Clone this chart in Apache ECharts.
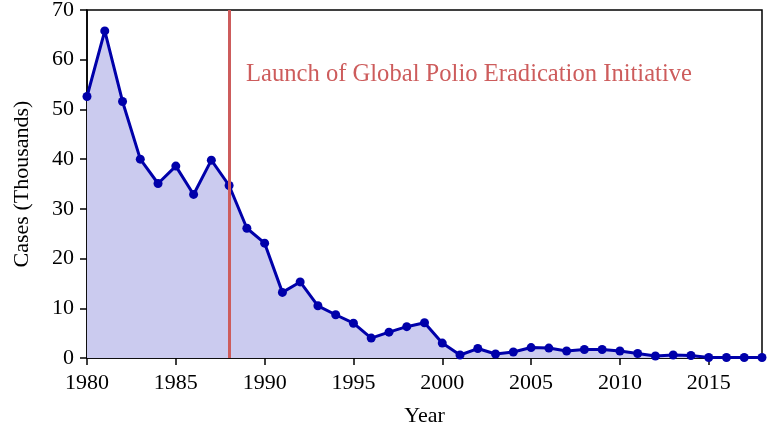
<!DOCTYPE html>
<html>
<head>
<meta charset="utf-8">
<script src="https://cdn.jsdelivr.net/npm/echarts@6/dist/echarts.min.js"></script>
<style>
  html, body { margin: 0; padding: 0; background: #fff; }
</style>
</head>
<body>
<div id="main" style="width: 769px; height: 432px;"></div>
<script>
// polio cases per year, thousands
var years = [1980, 1981, 1982, 1983, 1984, 1985, 1986, 1987, 1988, 1989,
  1990, 1991, 1992, 1993, 1994, 1995, 1996, 1997, 1998, 1999,
  2000, 2001, 2002, 2003, 2004, 2005, 2006, 2007, 2008, 2009,
  2010, 2011, 2012, 2013, 2014, 2015, 2016, 2017, 2018];
var cases = [52.6, 65.8, 51.6, 40.0, 35.1, 38.6, 32.9, 39.8, 34.7, 26.1,
  23.1, 13.2, 15.3, 10.5, 8.7, 7.0, 4.0, 5.2, 6.3, 7.1,
  3.0, 0.6, 1.9, 0.8, 1.2, 2.1, 2.0, 1.4, 1.7, 1.7,
  1.4, 0.9, 0.4, 0.6, 0.5, 0.1, 0.1, 0.1, 0.1];
var launchYear = 1988;
var launchText = 'Launch of Global Polio Eradication Initiative';

var fontFamily = '"Liberation Serif", "DejaVu Serif", serif';
var myChart = echarts.init(document.getElementById('main'));

var option = {
  animation: false,
  backgroundColor: '#fff',
  grid: {
    left: 87,
    right: 7,
    top: 10,
    bottom: 74,
    outerBoundsMode: 'none',
    show: true,
    borderColor: '#000',
    borderWidth: 1.5
  },
  xAxis: {
    type: 'value',
    min: 1980,
    max: 2018,
    interval: 5,
    name: 'Year',
    nameLocation: 'middle',
    nameGap: 47,
    nameTextStyle: { fontFamily: fontFamily, fontSize: 22, color: '#000' },
    axisLine: { show: true, lineStyle: { color: '#000', width: 1.5 } },
    axisTick: { show: true, inside: false, length: 7, lineStyle: { color: '#000', width: 1.5 } },
    axisLabel: {
      fontFamily: fontFamily, fontSize: 22, color: '#000', margin: 14,
      showMaxLabel: false,
      formatter: function (v) { return String(v); }
    },
    splitLine: { show: false }
  },
  yAxis: {
    type: 'value',
    min: 0,
    max: 70,
    interval: 10,
    name: 'Cases (Thousands)',
    nameLocation: 'middle',
    nameGap: 54,
    nameTextStyle: { fontFamily: fontFamily, fontSize: 22, color: '#000' },
    axisLine: { show: true, lineStyle: { color: '#000', width: 1.5 } },
    axisTick: { show: true, inside: false, length: 7, lineStyle: { color: '#000', width: 1.5 } },
    axisLabel: { fontFamily: fontFamily, fontSize: 22, color: '#000', margin: 13 },
    splitLine: { show: false }
  },
  graphic: [
    {
      type: 'text',
      left: 246,
      top: 62,
      style: {
        text: launchText,
        fontFamily: fontFamily,
        fontSize: 24.6,
        fill: '#cd5c5c'
      }
    }
  ],
  series: [
    {
      type: 'line',
      data: years.map(function (y, i) { return [y, cases[i]]; }),
      symbol: 'circle',
      symbolSize: 9,
      lineStyle: { color: '#0000aa', width: 3 },
      itemStyle: { color: '#0000aa' },
      areaStyle: { color: '#cbcbef', opacity: 1 },
      z: 3,
      markLine: {
        silent: true,
        symbol: ['none', 'none'],
        label: { show: false },
        lineStyle: { color: '#cd5c5c', width: 3, type: 'solid' },
        data: [{ xAxis: launchYear }],
        z: 4
      }
    }
  ]
};
myChart.setOption(option);
</script>
</body>
</html>
